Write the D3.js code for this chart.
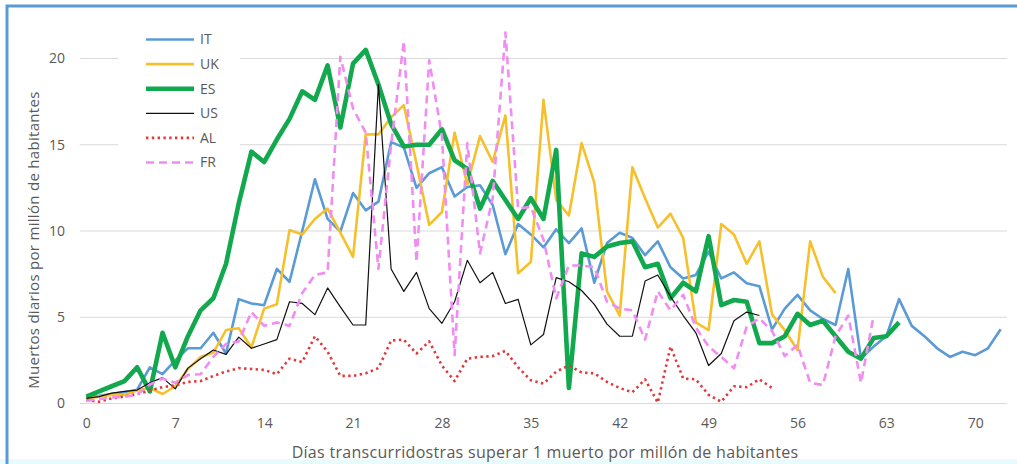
<!DOCTYPE html>
<html>
<head>
<meta charset="utf-8">
<script src="https://cdn.jsdelivr.net/npm/d3@7"></script>
<style>
  body { margin: 0; background: #fff; }
  text { font-family: "Open Sans", "Noto Sans", sans-serif; fill: #595959; }
</style>
</head>
<body>
<div id="visualize"></div>
<script>

// Series - deaths per million, one value per day (day 0 first)
var IT = [0.4,0.45,0.55,0.65,0.8,2.1,1.7,2.5,3.2,3.2,
  4.1,2.9,6.05,5.8,5.7,7.8,7.06,10.0,13.0,10.7,
  9.96,12.2,11.2,11.7,15.15,14.85,12.5,13.35,13.7,12.0,
  12.55,12.65,11.5,8.65,10.4,9.8,9.05,10.1,9.3,10.15,
  7.0,9.3,9.9,9.6,8.6,9.4,7.9,7.25,7.45,8.8,
  7.25,7.6,6.97,6.8,4.3,5.5,6.3,5.4,4.9,4.55,
  7.8,2.6,3.3,3.9,6.05,4.5,3.9,3.2,2.7,3.0,
  2.8,3.2,4.3];

var UK = [0.3,0.4,0.5,0.5,0.75,0.9,0.55,1.0,2.0,2.7,
  2.95,4.26,4.36,3.25,5.5,5.75,10.06,9.8,10.7,11.3,
  9.9,8.5,15.6,15.6,16.6,17.3,13.9,10.35,11.1,15.7,
  12.7,15.5,14.0,16.7,7.55,8.2,17.6,11.8,10.9,15.1,
  12.8,6.5,5.1,13.7,11.9,10.2,11.0,9.6,4.7,4.26,
  10.4,9.8,8.1,9.4,5.15,4.25,3.1,9.4,7.35,6.4];

var ES = [0.4,0.7,1.0,1.3,2.1,0.7,4.1,2.1,3.9,5.4,
  6.1,8.1,11.6,14.6,14.0,15.3,16.5,18.1,17.6,19.6,
  16.0,19.7,20.5,18.5,16.2,14.9,15.0,15.0,15.9,14.1,
  13.6,11.3,12.9,11.8,10.7,11.9,10.7,14.7,0.9,8.7,
  8.5,9.1,9.3,9.4,7.9,8.1,6.1,7.0,6.5,9.7,
  5.7,6.0,5.9,3.5,3.5,3.9,5.2,4.55,4.8,3.9,
  3.0,2.6,3.8,3.9,4.7];

var US = [0.3,0.4,0.6,0.7,0.78,1.2,1.5,0.85,2.05,2.6,
  3.1,2.85,3.85,3.2,3.45,3.7,5.9,5.8,5.15,6.7,
  5.6,4.55,4.55,18.5,7.8,6.5,7.6,5.5,4.65,5.9,
  8.3,7.0,7.6,5.8,6.04,3.4,4.0,7.3,7.06,6.55,
  5.75,4.6,3.9,3.9,7.1,7.45,6.2,5.1,4.1,2.2,
  2.9,4.8,5.3,5.1];

var AL = [0.2,0.1,0.3,0.4,0.55,0.75,0.95,1.05,1.25,1.3,
  1.6,1.85,2.05,2.0,1.95,1.7,2.6,2.4,3.9,3.0,
  1.6,1.6,1.75,2.05,3.65,3.7,2.9,3.6,2.2,1.3,
  2.6,2.7,2.75,3.05,2.1,1.35,1.15,1.85,2.2,1.8,
  1.75,1.25,0.9,0.65,1.4,0.05,3.3,1.45,1.4,0.5,
  0.1,1.0,0.95,1.4,0.9];

var FR = [0.15,0.25,0.35,0.4,0.5,1.1,1.45,1.2,1.65,1.7,
  2.7,3.45,3.6,5.3,4.5,4.7,4.5,6.4,7.45,7.6,
  20.1,17.1,15.7,7.8,15.0,21.0,8.2,19.9,15.5,2.8,
  15.1,8.7,11.9,21.5,11.3,11.4,9.5,6.1,8.0,8.0,
  7.9,5.9,5.5,5.4,3.7,6.5,5.4,6.3,4.4,3.3,
  2.7,2.04,4.45,4.94,4.2,2.75,3.4,1.2,1.07,3.9,
  5.1,1.2,5.1];

var seriesNames = ["IT", "UK", "ES", "US", "AL", "FR"];
var seriesValues = [IT, UK, ES, US, AL, FR];

// Tick labels
var xTicks = [0, 7, 14, 21, 28, 35, 42, 49, 56, 63, 70];
var yTicks = [0, 5, 10, 15, 20];
var nDays = 73;

// Line styles
var styles = {
  IT: { color: "#5b9bd5", width: 2.6, dash: null },
  UK: { color: "#f6c02d", width: 2.6, dash: null },
  ES: { color: "#12a84e", width: 4.6, dash: null },
  US: { color: "#111111", width: 1.2, dash: null },
  AL: { color: "#e0383b", width: 2.6, dash: "2.4 3.4" },
  FR: { color: "#f08cf2", width: 2.6, dash: "8 5" }
};

function drawChart() {

  var width = 1017;
  var height = 464;

  var svg = d3.select("#visualize").append("svg")
      .attr("width", width)
      .attr("height", height);

  // frame
  svg.append("rect")
      .attr("x", 0).attr("y", 459)
      .attr("width", width).attr("height", 5)
      .attr("fill", "#e8fbff");
  svg.append("path")
      .attr("d", "M7,464 V6 H1017")
      .attr("fill", "none")
      .attr("stroke", "#5b9bd5")
      .attr("stroke-width", 3);

  var x = d3.scaleLinear()
      .domain([-0.5, nDays - 0.5])
      .range([80, 1007]);

  var y = d3.scaleLinear()
      .domain([0, 20])
      .range([403.5, 58.5]);

  // gridlines
  svg.append("g")
      .selectAll("line")
      .data(yTicks)
    .enter().append("line")
      .attr("x1", 80)
      .attr("x2", 1007)
      .attr("y1", function(d) { return y(d); })
      .attr("y2", function(d) { return y(d); })
      .attr("stroke", "#d9d9d9")
      .attr("stroke-width", 1);

  // y axis labels
  var yAxis = d3.axisLeft(y).tickValues(yTicks).tickSize(0).tickPadding(0);
  var gy = svg.append("g")
      .attr("transform", "translate(65,0)")
      .call(yAxis);
  gy.select(".domain").remove();
  gy.selectAll("text")
      .style("font-size", "14px")
      .attr("fill", "#595959");

  // x axis labels
  var xAxis = d3.axisBottom(x).tickValues(xTicks).tickSize(0).tickPadding(0);
  var gx = svg.append("g")
      .attr("transform", "translate(0,418)")
      .call(xAxis);
  gx.select(".domain").remove();
  gx.selectAll("text")
      .style("font-size", "14px")
      .attr("fill", "#595959");

  // axis titles
  svg.append("text")
      .attr("x", 545)
      .attr("y", 458)
      .style("text-anchor", "middle")
      .style("font-size", "16px")
      .style("letter-spacing", "0.3px")
      .text("Días transcurridostras superar 1 muerto por millón de habitantes");

  svg.append("text")
      .attr("transform", "rotate(-90)")
      .attr("x", -240)
      .attr("y", 39)
      .style("text-anchor", "middle")
      .style("font-size", "15px")
      .style("letter-spacing", "0.3px")
      .text("Muertos diarios por millón de habitantes");

  // lines
  var line = d3.line()
      .x(function(d, i) { return x(i); })
      .y(function(d) { return y(d); });

  seriesNames.forEach(function(name, k) {
    var s = styles[name];
    svg.append("path")
        .datum(seriesValues[k])
        .attr("fill", "none")
        .attr("stroke", s.color)
        .attr("stroke-width", s.width)
        .attr("stroke-linejoin", "round")
        .attr("stroke-dasharray", s.dash)
        .attr("d", line);
  });

  // legend
  svg.append("rect")
      .attr("x", 118).attr("y", 26)
      .attr("width", 122).attr("height", 150)
      .attr("fill", "#ffffff");

  var legend = svg.selectAll(".legend")
      .data(seriesNames)
    .enter().append("g")
      .attr("class", "legend")
      .attr("transform", function(d, i) { return "translate(0," + (39.5 + i * 24.6) + ")"; });

  legend.append("line")
      .attr("x1", 146)
      .attr("x2", 194)
      .attr("stroke", function(d) { return styles[d].color; })
      .attr("stroke-width", function(d) { return styles[d].width; })
      .attr("stroke-dasharray", function(d) { return styles[d].dash; });

  legend.append("text")
      .attr("x", 200)
      .attr("dy", ".35em")
      .style("font-size", "14px")
      .text(function(d) { return d; });
}

drawChart();
</script>
</body>
</html>
